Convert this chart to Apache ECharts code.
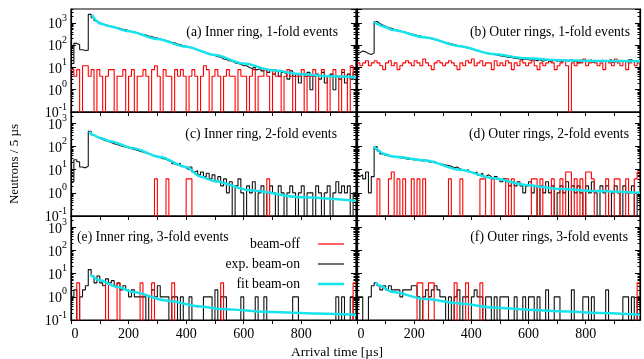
<!DOCTYPE html>
<html>
<head>
<meta charset="utf-8">
<title>Neutron arrival time spectra</title>
<script src="https://cdn.jsdelivr.net/npm/echarts@6.0.0/dist/echarts.min.js"></script>
<style>
  html, body { margin: 0; padding: 0; background: #ffffff; }
  #chart { width: 644px; height: 359px; }
</style>
</head>
<body>
<div id="chart"></div>
<script>
// Histogram bins: 10 µs wide, first bin starts at 0 µs. Heights are neutrons per 5 µs.
const BIN_WIDTH = 10;

// ---- Inner ring, 1-fold events ----
const beamOnInner1 = [
  15,120,105,62,58,60,2400,1700,1250,1020,
  900,830,760,700,660,600,570,520,490,450,
  410,390,350,335,300,285,260,245,220,210,
  190,175,160,150,135,128,112,106,95,90,
  80,74,68,61,55,52,46,42,38,34,
  30,29,24,23,20,19,16,15,14,12,
  12,10,9,11,8,9,7,9,6,8,
  5,7,4,6,5,3,7,4,5,2,
  5,4,6,1,4,5,3,6,2,4,
  5,1,4,3,6,2,5,3,6
];
const beamOffInner1 = [
  8,4,8,0,12,12,4,8,0,8,
  4,0,4,8,8,0,4,4,8,0,
  4,8,0,4,4,8,4,0,8,12,
  4,0,8,4,4,0,8,4,8,4,
  0,4,8,4,0,4,12,8,0,4,
  8,4,0,4,8,4,4,0,8,4,
  4,0,4,8,0,4,4,8,4,0,
  8,4,4,0,4,8,4,0,4,4,
  8,0,4,4,8,0,4,8,4,0,
  4,8,4,0,8,4,0,12,4
];
const fitInner1 = [[73,2300],[80,1600],[90,1150],[100,950],[130,720],[200,420],[300,190],
  [400,85],[500,36],[600,15],[700,7.5],[800,5],[900,4],[990,3.6]];

// ---- Outer rings, 1-fold events ----
const beamOnOuter1 = [
  45,55,50,42,38,45,1150,950,800,700,
  620,570,520,480,445,410,380,350,325,300,
  280,262,240,228,210,196,180,168,156,146,
  135,126,116,107,99,92,86,79,73,67,
  61,57,53,49,46,43,40,38,36,34,
  32,30,29,28,26,25,24,23,24,22,
  21,23,20,22,19,21,20,18,22,19,
  20,17,21,19,22,18,20,16,21,19,
  18,22,17,20,19,21,18,20,23,17,
  19,21,18,20,17,22,19,18,20
];
const beamOffOuter1 = [
  16,12,16,20,12,16,20,16,12,8,
  16,20,12,16,8,12,16,20,16,12,
  20,16,12,24,16,12,8,16,20,16,
  12,16,20,16,12,8,16,12,20,16,
  24,12,16,20,12,16,16,8,20,12,
  16,12,20,16,8,16,12,20,16,12,
  16,20,12,8,16,12,16,20,16,8,
  12,16,20,12,0,16,12,20,16,24,
  12,16,20,16,12,16,8,20,16,12,
  24,16,12,20,8,16,20,12,16
];
const fitOuter1 = [[60,1150],[70,900],[90,700],[125,480],[240,220],[360,90],[475,40],
  [590,26],[710,21],[830,19.5],[990,19]];

// ---- Inner ring, 2-fold events ----
const beamOnInner2 = [
  3,27,22,13,12,14,450,320,265,230,
  200,180,165,150,132,122,110,100,95,88,
  80,75,70,62,58,52,50,45,40,38,
  34,30,28,24,22,18,16,19,14,12,
  10,13,8,9,6,8,5,7,4,6,
  3,5,2,4,1,3,0,2,4,1,
  0,2,1,3,0,1,2,0,1,2,
  1,0,2,1,0,1,2,1,0,1,
  2,0,1,1,0,2,1,0,1,2,
  0,1,3,1,2,1,2,0,1
];
const beamOffInner2 = [
  0,0,0,0,0,0,0,0,0,0,
  0,0,0,0,0,0,0,0,0,0,
  0,0,0,0,0,0,0,0,0,4,
  0,0,0,4,0,0,0,0,0,0,
  4,4,0,0,0,0,0,0,0,0,
  0,0,0,0,0,0,0,0,0,0,
  0,0,0,0,0,0,0,0,4,0,
  0,0,0,0,0,0,0,0,0,0,
  0,0,0,0,0,0,0,0,0,0,
  0,0,0,0,0,0,0,0,0
];
const fitInner2 = [[63,450],[75,320],[100,240],[135,170],[215,85],[310,35],[400,13],
  [450,5],[500,3.2],[620,1.3],[800,0.65],[990,0.45]];

// ---- Outer rings, 2-fold events ----
const beamOnOuter2 = [
  5,6,4,8,1,5,100,65,48,42,
  40,38,36,35,33,32,30,28,29,26,
  28,25,24,26,22,21,23,19,18,17,
  16,15,14,12,13,11,10,9,10,8,
  7,8,6,7,5,6,5,4,5,4,
  3,4,3,2,3,2,3,2,1,2,
  3,1,2,0,2,1,3,1,2,0,
  1,2,1,3,0,2,1,2,1,0,
  2,1,3,1,0,2,1,2,0,1,
  2,1,0,2,1,1,2,0,1
];
const beamOffOuter2 = [
  0,0,0,0,0,0,0,4,0,0,
  0,4,8,0,4,0,4,0,0,4,
  0,4,0,4,0,0,0,0,0,0,
  0,0,4,0,0,0,4,0,0,0,
  0,0,0,4,4,0,0,4,0,0,
  0,0,4,0,4,0,0,0,0,0,
  0,4,4,0,4,0,0,0,4,0,
  0,4,0,8,8,0,4,0,4,0,
  8,8,4,0,0,0,0,4,0,0,
  4,4,0,0,4,0,0,4,8
];
const fitOuter2 = [[60,105],[70,75],[90,50],[125,37],[240,25],[360,10],[475,4.3],
  [590,2.2],[710,1.45],[830,1.2],[990,1.0]];

// ---- Inner ring, 3-fold events ----
const beamOnInner3 = [
  1,2,0,1,2,3,15,8,4,8,
  4,3,6,4,5,3,4,2,3,2,
  1,2,1,1,1,1,0,1,2,1,
  3,1,1,1,0,1,1,0,1,0,
  0,1,0,0,0,0,1,1,1,0,
  2,0,1,1,0,0,0,0,0,1,
  0,0,0,0,1,0,0,1,0,0,
  0,0,0,0,0,0,0,1,1,0,
  0,0,0,0,0,0,0,0,0,0,
  0,0,1,0,1,0,0,1,0
];
const beamOffInner3 = [
  0,0,4,0,0,0,0,0,0,0,
  0,0,4,0,0,0,4,0,0,0,
  0,0,0,0,4,0,0,0,4,0,
  0,0,0,0,0,4,0,0,0,0,
  0,0,0,0,0,0,0,0,0,0,
  0,0,4,0,0,0,0,0,0,0,
  0,0,0,0,0,0,0,0,0,0,
  0,0,0,0,0,0,0,0,0,0,
  0,0,0,0,0,0,0,0,0,0,
  0,0,0,0,0,0,0,0,4
];
const fitInner3 = [[68,9],[100,5.2],[160,2.7],[215,1.6],[330,0.7],[450,0.38],[520,0.3],
  [700,0.22],[850,0.19],[990,0.17]];

// ---- Outer rings, 3-fold events ----
const beamOnOuter3 = [
  1,1,0,0,1,3,4,3,2,3,
  2,3,2,2,2,1,2,2,2,3,
  3,1,0,1,2,1,2,3,2,1,
  1,0,1,0,1,2,0,1,1,0,
  1,2,1,1,0,1,1,0,1,0,
  1,1,1,0,0,1,0,0,1,0,
  1,1,0,1,0,0,2,0,0,1,
  1,0,0,0,0,2,0,0,0,1,
  1,0,1,0,0,0,0,2,0,0,
  0,0,0,1,1,0,1,0,1
];
const beamOffOuter3 = [
  0,0,0,0,0,0,0,0,0,0,
  0,0,0,0,0,0,0,0,0,0,
  0,4,4,0,0,4,4,0,0,0,
  0,0,0,0,4,0,0,0,4,0,
  0,0,0,4,0,0,0,0,0,0,
  0,0,0,0,0,0,0,0,0,0,
  0,0,0,0,0,0,0,0,0,0,
  0,0,0,0,0,0,0,0,0,0,
  0,0,0,0,0,0,0,0,0,0,
  0,0,0,0,0,0,0,0,4
];
const fitOuter3 = [[65,4.2],[80,3],[125,1.6],[240,0.8],[360,0.52],[475,0.35],[600,0.28],
  [710,0.24],[850,0.2],[990,0.17]];

// Axis tick labels
const xTickLabels = ['0', '200', '400', '600', '800'];
const xLabelStep = 200;

const panels = [
  { title: '(a) Inner ring, 1-fold events',  off: beamOffInner1, on: beamOnInner1, fit: fitInner1, row: 0, col: 0 },
  { title: '(b) Outer rings, 1-fold events', off: beamOffOuter1, on: beamOnOuter1, fit: fitOuter1, row: 0, col: 1 },
  { title: '(c) Inner ring, 2-fold events',  off: beamOffInner2, on: beamOnInner2, fit: fitInner2, row: 1, col: 0 },
  { title: '(d) Outer rings, 2-fold events', off: beamOffOuter2, on: beamOnOuter2, fit: fitOuter2, row: 1, col: 1 },
  { title: '(e) Inner ring, 3-fold events',  off: beamOffInner3, on: beamOnInner3, fit: fitInner3, row: 2, col: 0 },
  { title: '(f) Outer rings, 3-fold events', off: beamOffOuter3, on: beamOnOuter3, fit: fitOuter3, row: 2, col: 1 }
];

// ---- layout and style ----
const FONT = '"Liberation Serif", "Times New Roman", serif';
const COL_LEFT = [71, 357];
const COL_WIDTH = [285, 283];
const ROW_TOP = [9, 112, 216];
const ROW_HEIGHT = [103, 104, 104];
const ROW_YMAX = [4200, 3100, 3100];
const X_MIN = 0, X_MAX = 990;
const Y_MIN = 0.1;
const ZERO_FLOOR = 0.01;   // empty bins drop below the visible range
const COLOR_OFF = '#ff0000';
const COLOR_ON = '#111111';
const COLOR_FIT = '#17e3ec';

function stepData(values) {
  const pts = values.map((v, i) => [i * BIN_WIDTH, v > 0 ? v : ZERO_FLOOR]);
  const last = values[values.length - 1];
  pts.push([values.length * BIN_WIDTH, last > 0 ? last : ZERO_FLOOR]);
  return pts;
}

function minorLogTicks(maxValue) {
  const out = [];
  for (let k = -1; k <= 3; k++) {
    for (let m = 2; m <= 9; m++) {
      const v = m * Math.pow(10, k);
      if (v < maxValue) out.push(Math.log10(v));
    }
  }
  return out;
}

const grids = [], xAxes = [], yAxes = [], series = [], graphics = [];

panels.forEach((p, i) => {
  const ymax = ROW_YMAX[p.row];
  grids.push({
    left: COL_LEFT[p.col], top: ROW_TOP[p.row],
    width: COL_WIDTH[p.col], height: ROW_HEIGHT[p.row],
    show: true, borderColor: '#000', borderWidth: 1.2,
    backgroundColor: 'transparent', containLabel: false, outerBoundsMode: 'none'
  });
  xAxes.push({
    gridIndex: i, type: 'value', min: X_MIN, max: X_MAX, interval: 100,
    axisLine: { show: true, onZero: false, lineStyle: { color: '#000', width: 1.2 } },
    axisTick: { show: true, inside: false, length: 4, lineStyle: { color: '#000', width: 1 } },
    splitLine: { show: false },
    axisLabel: {
      show: p.row === 2, margin: 7, color: '#000', fontFamily: FONT, fontSize: 14,
      showMaxLabel: false,
      formatter: (v) => {
        if (v % xLabelStep !== 0) return '';
        const s = xTickLabels[v / xLabelStep];
        if (s === undefined) return '';
        return v === 0 ? '{z|' + s + '}' : s;
      },
      rich: { z: { fontFamily: FONT, fontSize: 14, color: '#000', padding: [0, 0, 0, 8] } }
    }
  });
  const base = {
    gridIndex: i, type: 'log', logBase: 10, min: Y_MIN, max: ymax,
    axisLine: { show: true, onZero: false, lineStyle: { color: '#000', width: 1.2 } },
    axisTick: { show: true, inside: true, length: 5, lineStyle: { color: '#000', width: 1 } },
    splitLine: { show: false }
  };
  yAxes.push(Object.assign({}, base, {
    position: 'left',
    axisLabel: {
      show: p.col === 0, margin: 4, showMaxLabel: false, color: '#000',
      formatter: (v) => '{b|10}{s|' + Math.round(Math.log10(v)) + '}',
      rich: {
        b: { fontFamily: FONT, fontSize: 14, color: '#000', lineHeight: 20, padding: [3, 0, 0, 0] },
        s: { fontFamily: FONT, fontSize: 10, color: '#000', verticalAlign: 'top', lineHeight: 10 }
      }
    }
  }));
  yAxes.push(Object.assign({}, base, { position: 'right', axisLabel: { show: false } }));
  ['left', 'right'].forEach((pos) => {
    yAxes.push({
      gridIndex: i, type: 'value', min: Math.log10(Y_MIN), max: Math.log10(ymax), position: pos,
      axisLine: { show: false, onZero: false },
      axisTick: { show: true, inside: true, length: 2.5, customValues: minorLogTicks(ymax),
        lineStyle: { color: '#000', width: 1 } },
      axisLabel: { show: false }, splitLine: { show: false }
    });
  });

  const yIdx = i * 4;
  series.push({
    name: 'exp. beam-on', type: 'line', xAxisIndex: i, yAxisIndex: yIdx,
    data: stepData(p.on), step: 'end', symbol: 'none', clip: true, z: 2,
    itemStyle: { color: COLOR_ON }, lineStyle: { color: COLOR_ON, width: 1.1 }
  });
  series.push({
    name: 'beam-off', type: 'line', xAxisIndex: i, yAxisIndex: yIdx,
    data: stepData(p.off), step: 'end', symbol: 'none', clip: true, z: 3,
    itemStyle: { color: COLOR_OFF }, lineStyle: { color: COLOR_OFF, width: 1.1 }
  });
  series.push({
    name: 'fit beam-on', type: 'line', xAxisIndex: i, yAxisIndex: yIdx,
    data: p.fit, smooth: 0.3, smoothMonotone: 'x', symbol: 'none', clip: true, z: 4,
    itemStyle: { color: COLOR_FIT }, lineStyle: { color: COLOR_FIT, width: 2.5 }
  });
});

// Panel captions
const captionPos = [
  { x: 338, y: 32, align: 'right' },
  { x: 630, y: 32, align: 'right' },
  { x: 337, y: 134, align: 'right' },
  { x: 629, y: 134, align: 'right' },
  { x: 77, y: 237, align: 'left' },
  { x: 628, y: 237, align: 'right' }
];
panels.forEach((p, i) => {
  graphics.push({
    type: 'text', x: captionPos[i].x, y: captionPos[i].y, z: 10,
    style: { text: p.title, font: '13.7px ' + FONT, fill: '#000',
      align: captionPos[i].align, verticalAlign: 'middle' }
  });
});
// Axis titles
graphics.push({
  type: 'text', x: 15, y: 164, rotation: Math.PI / 2, z: 10,
  style: { text: 'Neutrons / 5 µs', font: '13px ' + FONT, fill: '#000', align: 'center', verticalAlign: 'middle' }
});
graphics.push({
  type: 'text', x: 337, y: 352, z: 10,
  style: { text: 'Arrival time [µs]', font: '13.5px ' + FONT, fill: '#000', align: 'center', verticalAlign: 'middle' }
});

// Legend keys: plain line segments (thin for histograms, thicker for the fit)
const thinKey = 'path://M0,0M0,14M0,6.4H26V7.6H0Z';
const thickKey = 'path://M0,0M0,14M0,5.7H26V8.3H0Z';

const chart = echarts.init(document.getElementById('chart'), null, { renderer: 'canvas' });
chart.setOption({
  animation: false,
  backgroundColor: '#ffffff',
  grid: grids,
  xAxis: xAxes,
  yAxis: yAxes,
  series: series,
  graphic: graphics,
  legend: {
    data: [
      { name: 'beam-off', icon: thinKey },
      { name: 'exp. beam-on', icon: thinKey },
      { name: 'fit beam-on', icon: thickKey }
    ],
    orient: 'vertical', align: 'right', right: 300, top: 237,
    itemGap: 6, itemWidth: 26, itemHeight: 14, padding: 0,
    selectedMode: false,
    textStyle: { fontFamily: FONT, fontSize: 13.7, color: '#000', padding: [0, 13, 0, 0] }
  }
});
</script>
</body>
</html>
